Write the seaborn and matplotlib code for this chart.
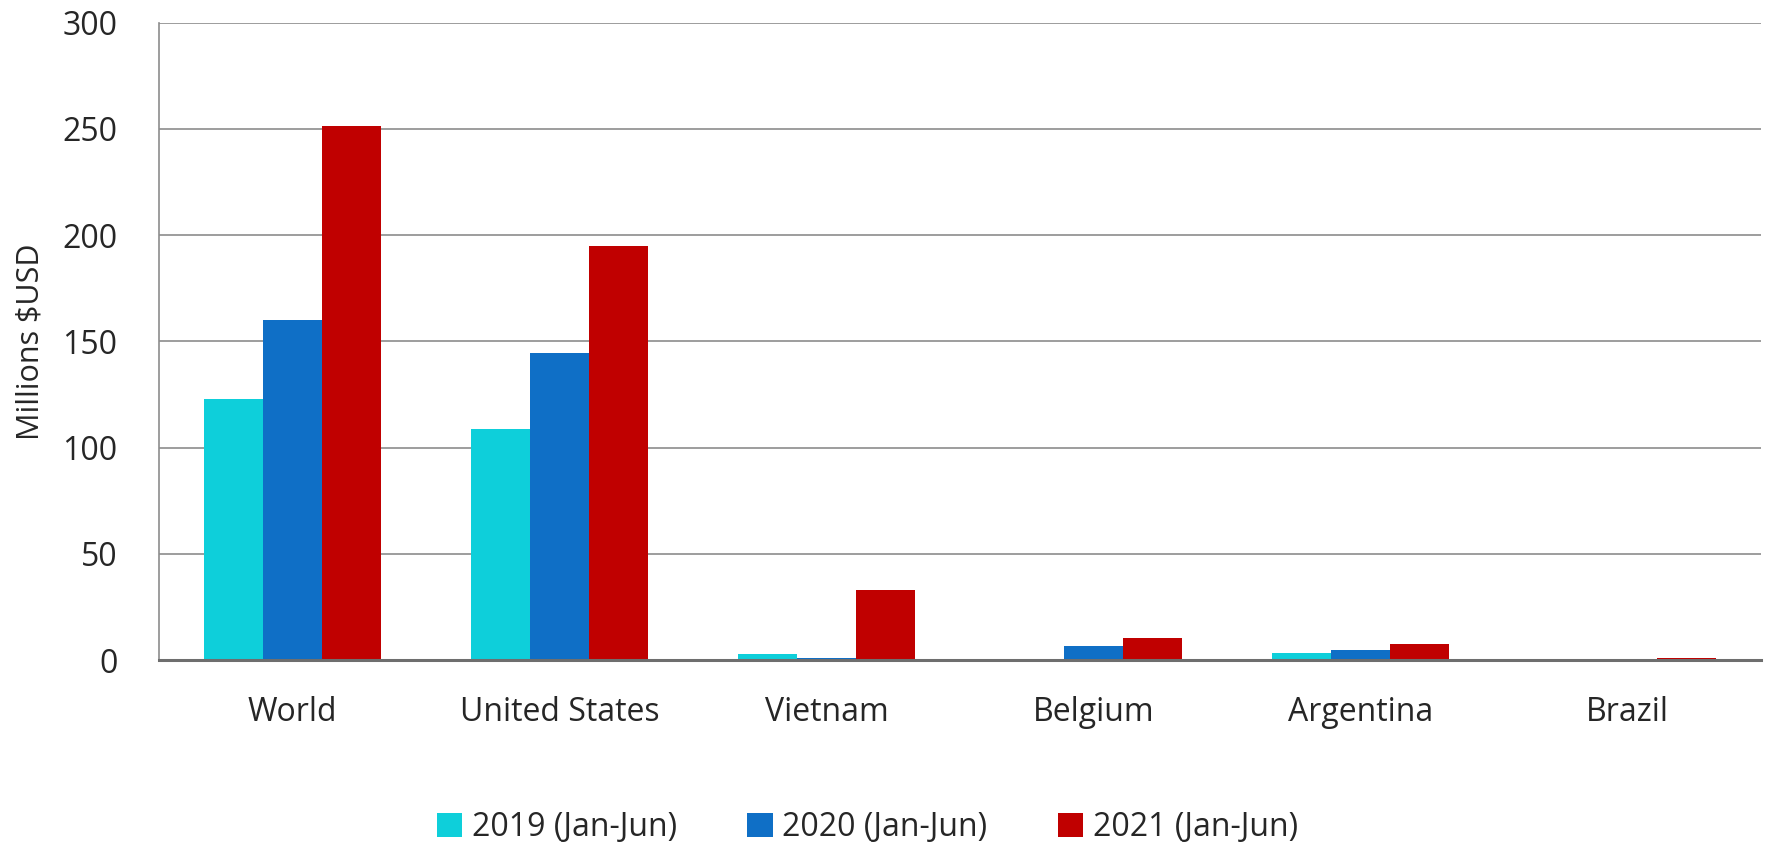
import matplotlib
matplotlib.use("Agg")
import matplotlib.pyplot as plt
import seaborn as sns
import pandas as pd

countries = ["World", "United States", "Vietnam", "Belgium", "Argentina", "Brazil"]
series_names = ["2019 (Jan-Jun)", "2020 (Jan-Jun)", "2021 (Jan-Jun)"]
v2019 = [122.7, 108.9, 2.9, 0.0, 3.2, 0.0]
v2020 = [159.8, 144.4, 1.1, 6.5, 4.8, 0.0]
v2021 = [251.2, 194.9, 32.9, 10.5, 7.5, 0.8]
colors = ["#0ECFDA", "#0F6FC6", "#C00000"]
y_ticks = [0, 50, 100, 150, 200, 250, 300]

rows = []
for name, vals in zip(series_names, [v2019, v2020, v2021]):
    for c, v in zip(countries, vals):
        rows.append({"Country": c, "Series": name, "Value": v})
df = pd.DataFrame(rows)

sns.set_theme(style="white")
plt.rcParams["font.family"] = ["Open Sans", "DejaVu Sans"]

fig = plt.figure(figsize=(17.7, 8.46), dpi=100)
ax = fig.add_axes([159 / 1770, 1 - 660 / 846, (1761 - 159) / 1770, (660 - 22.6) / 846])

sns.barplot(data=df, x="Country", y="Value", hue="Series", order=countries,
            hue_order=series_names, palette=colors, width=0.66, gap=0,
            saturation=1, ax=ax, legend=True, linewidth=0)

ax.set_ylim(0, 300)
ax.set_yticks(y_ticks)
ax.yaxis.grid(True, color="#8C8C8C", linewidth=1.2)
ax.set_axisbelow(True)
ax.set_xlabel("")
ax.set_ylabel("Millions $USD", fontsize=22, labelpad=12)
ax.tick_params(axis="y", labelsize=23, pad=30, length=0)
ax.tick_params(axis="x", labelsize=23, pad=26, length=0)
for s in ["top", "right"]:
    ax.spines[s].set_visible(False)
ax.spines["left"].set_color("#8C8C8C")
ax.spines["left"].set_linewidth(1.2)
ax.spines["bottom"].set_color("#6E6E6E")
ax.spines["bottom"].set_linewidth(2.2)
ax.set_xlim(-0.5, len(countries) - 0.5)

handles, labels = ax.get_legend_handles_labels()
ax.get_legend().remove()
fig.legend(handles, labels, loc="lower center", bbox_to_anchor=(0.49, -0.032),
           ncol=3, frameon=False, fontsize=23, handlelength=0.8,
           handleheight=0.8, handletextpad=0.3, columnspacing=2.2)

fig.savefig("out.png", dpi=100)
